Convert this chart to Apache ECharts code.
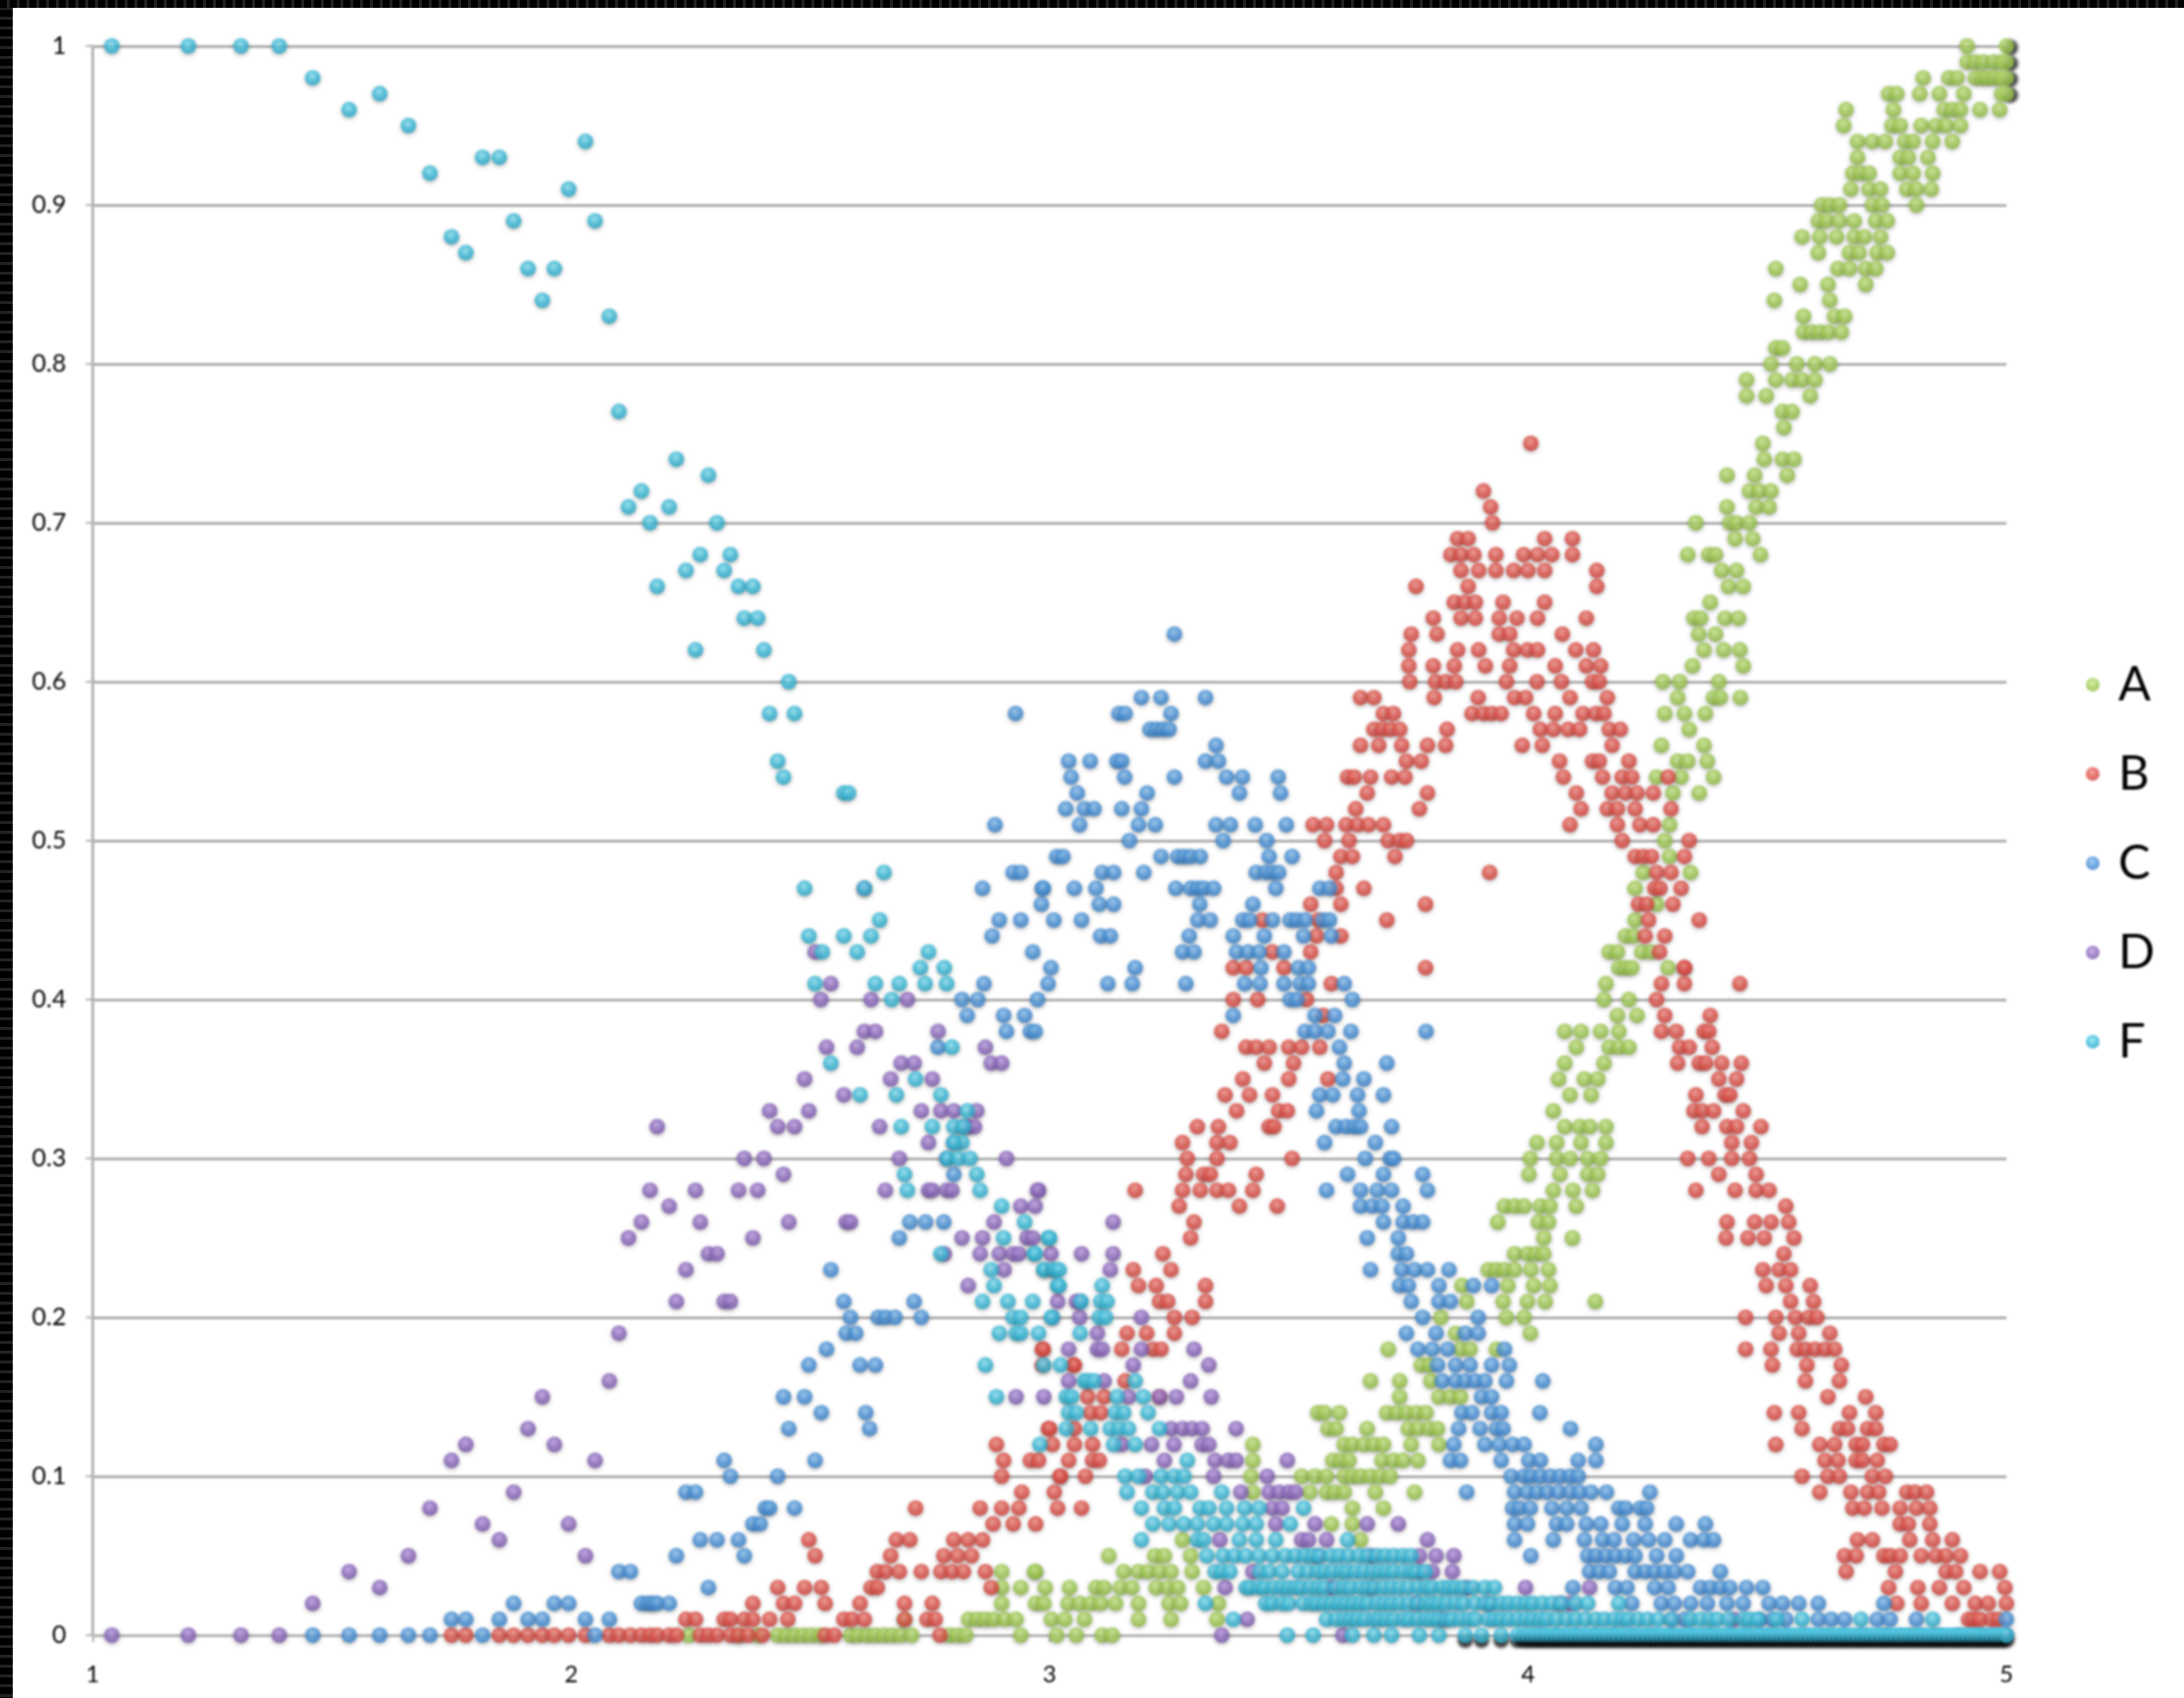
<!DOCTYPE html>
<html><head><meta charset="utf-8">
<style>
html,body{margin:0;padding:0;background:#fff;width:2226px;height:1731px;overflow:hidden}
#chart{position:absolute;left:0;top:0;width:2226px;height:1731px;filter:blur(1.1px)}
#edgeL{position:absolute;left:0;top:0;width:13px;height:1731px;background:repeating-linear-gradient(180deg,#000 0 7px,#222 7px 10px)}
#edgeT{position:absolute;left:0;top:0;width:2226px;height:8px;background:repeating-linear-gradient(90deg,#000 0 7px,#222 7px 10px)}
</style></head><body>
<div id="chart"></div><div id="edgeL"></div><div id="edgeT"></div>
<script src="https://cdn.jsdelivr.net/npm/echarts@6/dist/echarts.min.js"></script>
<script>
const seriesNames=['A','B','C','D','F'];
const xTicks=[1,2,3,4,5];
// Each row: [y, x, x, x ...]
const rowsA=[
[1,4.918,5],[.99,4.918,4.935,4.952,4.973,4.99,5],[.98,4.826,4.88,4.897,4.935,4.949,4.962,4.976,4.99,5],
[.97,4.754,4.771,4.819,4.86,4.911,4.99,5],[.96,4.665,4.764,4.87,4.887,4.904,4.945,4.986],
[.95,4.66,4.761,4.778,4.822,4.853,4.874,4.904],[.94,4.689,4.72,4.747,4.788,4.805,4.846,4.887],
[.93,4.689,4.778,4.795,4.836],[.92,4.679,4.696,4.713,4.778,4.805,4.846],[.91,4.675,4.713,4.737,4.792,4.812,4.843],
[.9,4.614,4.631,4.651,4.72,4.74,4.812],[.89,4.607,4.624,4.651,4.682,4.727,4.751],[.88,4.573,4.61,4.645,4.682,4.703,4.737],
[.87,4.607,4.672,4.692,4.73,4.751],[.86,4.518,4.648,4.672,4.706,4.727],[.85,4.569,4.627,4.706],[.84,4.515,4.631],
[.83,4.576,4.641,4.662],[.82,4.576,4.593,4.61,4.628,4.655],[.81,4.518,4.532],[.8,4.508,4.562,4.6,4.631],
[.79,4.457,4.518,4.552,4.573,4.6],[.78,4.457,4.498,4.59],[.77,4.532,4.552],[.76,4.535],[.75,4.491],
[.74,4.494,4.532,4.556],[.73,4.416,4.474,4.542],[.72,4.463,4.484,4.508],[.71,4.416,4.477,4.504],
[.7,4.351,4.422,4.436,4.463],[.69,4.433,4.47],[.68,4.334,4.378,4.392,4.486],[.67,4.405,4.436],[.66,4.419,4.45],
[.65,4.381],[.64,4.347,4.361,4.412,4.44],[.63,4.357,4.392],[.62,4.368,4.409,4.443],[.61,4.344,4.45],
[.6,4.282,4.317,4.399],[.59,4.313,4.388,4.402,4.444],[.58,4.286,4.327,4.371],[.57,4.337],[.56,4.279,4.368],
[.55,4.313,4.334,4.375],[.54,4.269,4.32,4.388],[.53,4.303,4.358],[.51,4.296],[.5,4.286],[.49,4.296],[.48,4.241,4.34],
[.47,4.224],[.46,4.269],[.45,4.224],[.44,4.204,4.221],[.43,4.17,4.187,4.238,4.258],[.42,4.19,4.204,4.217,4.293],
[.41,4.163],[.4,4.159,4.211],[.39,4.187,4.228],[.38,4.077,4.111,4.152,4.19],[.37,4.101,4.17,4.19,4.211],
[.36,4.077,4.159],[.35,4.064,4.118,4.146],[.34,4.088,4.132],[.33,4.053],[.32,4.077,4.108,4.129,4.163],
[.31,4.019,4.06,4.111,4.163],[.3,4.005,4.06,4.088,4.125,4.152],[.29,4.002,4.067,4.125,4.146],[.28,4.053,4.094,4.135],
[.27,3.951,3.972,3.992,4.026,4.046,4.101],[.26,3.937,4.022,4.043],[.25,4.033,4.093],[.24,3.972,3.999,4.016,4.033],
[.23,3.917,3.934,3.951,3.972,4.006,4.043],[.22,3.862,3.958,4.012,4.046],[.21,3.872,3.948,3.999,4.036,4.141],
[.2,3.818,3.955,3.992],[.19,3.849,4.005],[.18,3.708,3.859,3.879,3.934],[.17,3.777,3.794],[.16,3.671,3.732,3.797],
[.15,3.732,3.814,3.838,3.859],[.14,3.561,3.575,3.606,3.705,3.726,3.746,3.767,3.787],[.13,3.582,3.599,3.664,3.75,3.77,3.794,3.811],
[.12,3.425,3.616,3.633,3.657,3.678,3.698,3.756,3.814],[.11,3.425,3.592,3.609,3.626,3.695,3.719,3.739,3.77],
[.1,3.421,3.527,3.555,3.579,3.616,3.633,3.65,3.671,3.691,3.712],[.09,3.425,3.544,3.579,3.596,3.616,3.681,3.763],
[.08,3.633,3.698],[.07,3.589,3.633],[.06,3.278,3.65],[.05,3.124,3.22,3.24,3.295],
[.04,2.97,3.155,3.186,3.206,3.23,3.254,3.298,2.9,2.97],[.03,2.991,3.042,3.097,3.114,3.148,3.172,3.223,3.247,3.268,3.322,2.9,2.94],
[.02,2.9,2.971,2.988,3.039,3.063,3.086,3.107,3.138,3.186,3.25,3.274,3.353],
[.01,2.697,2.831,2.849,2.866,2.884,2.907,2.93,3.004,3.032,3.073,3.186,3.254,3.35],
[0,2.246,2.35,2.39,2.432,2.45,2.467,2.485,2.502,2.52,2.584,2.6,2.619,2.636,2.654,2.671,2.689,2.712,2.79,2.808,2.825,2.94,3.015,3.056,3.11,3.131]
];
const rowsB=[
[.75,4.006],[.72,3.907],[.71,3.922],[.7,3.926],[.69,3.853,3.875,4.035,4.093],[.68,3.839,3.86,3.887,3.933,3.991,4.02,4.05,4.093],
[.67,3.86,3.897,3.933,3.97,4,4.035,4.144],[.66,3.766,3.875,4.144],[.65,3.846,3.868,3.89,3.948,4.035],
[.64,3.802,3.86,3.89,3.94,3.977,4.02,4.122],[.63,3.756,3.81,3.94,3.962,4.072],[.62,3.751,3.853,3.897,3.97,3.999,4.02,4.1,4.137],
[.61,3.751,3.802,3.846,3.911,3.962,4.057,4.122,4.152],
[.6,3.753,3.807,3.828,3.849,3.955,4.019,4.07,4.135,4.149],[.59,3.65,3.678,3.804,3.896,3.972,3.995,4.088,4.166],
[.58,3.698,3.719,3.883,3.907,3.924,3.944,4.012,4.057,4.115,4.142,4.159],[.57,3.678,3.695,3.712,3.732,3.831,4.026,4.053,4.084,4.108,4.17,4.193],
[.56,3.65,3.688,3.736,3.79,3.828,3.988,4.03,4.176],[.55,3.746,3.777,4.066,4.135,4.149,4.211],
[.54,3.623,3.637,3.671,3.715,3.743,4.074,4.156,4.197,4.217,4.293],[.53,3.664,3.79,4.101,4.176,4.204,4.228,4.262],
[.52,3.64,3.773,4.111,4.166,4.187,4.224,4.299],[.51,3.551,3.579,3.62,3.644,3.667,3.698,4.088,4.187,4.234,4.262],
[.5,3.575,3.626,3.708,3.732,3.746,4.197,4.337],[.49,3.609,3.633,3.722,4.224,4.241,4.258,4.327],[.48,3.599,3.92,4.269,4.299],
[.47,3.599,3.657,4.265,4.276,4.32],[.46,3.546,3.609,3.786,4.231,4.248,4.303],[.45,3.445,3.562,3.705,4.252,4.358],
[.44,3.558,3.609,4.245,4.286],[.43,3.466,3.546,4.275],[.42,3.384,3.411,3.49,3.786,4.327,4.327],[.41,3.589,4.279,4.327,4.443],
[.4,3.384,3.435,3.537,4.269],[.39,3.572,4.286,4.381],[.38,3.36,4.279,4.31,4.368,4.378],
[.37,3.411,3.432,3.459,3.5,3.527,3.565,4.317,4.337,4.385],[.36,3.449,3.51,4.313,4.358,4.371,4.405,4.446],
[.35,3.404,3.5,3.582,4.399,4.436],[.34,3.367,3.418,3.466,4.351,4.412,4.422],[.33,3.391,3.479,3.497,4.347,4.364,4.388,4.45],
[.32,3.309,3.353,3.459,3.469,4.364,4.416,4.436,4.487],[.31,3.278,3.35,3.377,4.426,4.467],
[.3,3.288,3.35,3.507,4.334,4.378,4.426,4.463],[.29,3.285,3.322,3.336,3.432,4.399,4.477],
[.28,3.179,3.278,3.315,3.35,3.374,3.425,4.351,4.433,4.477,4.504],[.27,3.271,3.397,3.476,4.539],
[.26,3.302,4.416,4.474,4.508,4.545],[.25,3.295,4.414,4.46,4.494,4.556],[.24,3.237,4.535],[.23,3.175,3.254,4.491,4.525,4.549],
[.22,3.186,3.223,3.326,4.498,4.539,4.59],[.21,3.23,3.247,3.326,4.549,4.597],[.2,3.261,3.298,4.455,4.518,4.559,4.587,4.604],
[.19,3.162,3.203,3.261,4.525,4.566,4.631],[.18,2.985,2.987,3.151,3.216,3.233,4.455,4.508,4.563,4.58,4.6,4.621,4.641],
[.17,2.985,3.05,3.052,4.511,4.583,4.655],[.16,3.158,4.58,4.651],[.15,3.08,3.114,3.23,4.627,4.706],
[.14,3.086,3.107,4.515,4.566,4.672,4.727],[.13,2.998,3,3.052,4.573,4.651,4.668,4.71,4.727],
[.12,2.889,3.006,3.052,3.09,4.518,4.61,4.641,4.686,4.699,4.744,4.757],[.11,2.904,2.96,2.977,3.04,3.09,3.104,4.621,4.648,4.686,4.699,4.73],
[.1,2.9,3.023,3.075,3.022,4.573,4.627,4.651,4.72,4.747],[.09,2.942,3.01,4.61,4.675,4.71,4.733,4.792,4.809,4.833],
[.08,2.72,2.855,2.9,2.936,3.017,3.067,4.679,4.703,4.74,4.778,4.812,4.84],[.07,2.882,2.924,2.971,4.778,4.795,4.84],
[.06,2.497,2.68,2.708,2.8,2.83,2.86,4.689,4.72,4.798,4.846,4.887],[.05,2.51,2.668,2.779,2.808,2.837,4.662,4.686,4.744,4.757,4.778,4.822,4.853,4.874,4.904],
[.04,2.64,2.657,2.686,2.732,2.773,2.796,2.82,2.866,4.665,4.768,4.874,4.894,4.945,4.986],
[.03,2.432,2.488,2.523,2.627,2.64,2.878,4.754,4.815,4.86,4.911,4.997],[.02,2.38,2.444,2.467,2.531,2.604,2.697,2.755,4.771,4.822,4.887,4.935,4.962,5],
[.01,2.24,2.26,2.32,2.333,2.362,2.38,2.415,2.453,2.57,2.587,2.613,2.697,2.744,2.761,4.921,4.932,4.945,4.969,4.983],
[0,1.75,1.78,1.85,1.88,1.91,1.94,1.965,1.995,2.03,2.08,2.1,2.124,2.147,2.165,2.18,2.205,2.22,2.27,2.287,2.305,2.333,2.35,2.37,2.4,2.531,2.55,2.771,4.7,4.75,4.8,4.85,4.9,4.95,5]
];
const rowsC=[
[.63,3.261],[.59,3.192,3.233,3.326],[.58,2.929,3.145,3.158,3.254],[.57,3.21,3.223,3.237,3.25],[.56,3.348],
[.55,3.04,3.085,3.141,3.151,3.326,3.353],[.54,3.045,3.157,3.261,3.37,3.403,3.478],[.53,3.058,3.204,3.397,3.483],
[.52,3.034,3.073,3.093,3.151,3.192],[.51,2.886,3.063,3.186,3.221,3.348,3.378,3.43,3.495],[.5,3.167,3.363,3.454],
[.49,3.015,3.028,3.233,3.268,3.281,3.295,3.315,3.459,3.507],[.48,2.924,2.94,3.11,3.134,3.197,3.432,3.452,3.466,3.479],
[.47,2.86,2.985,3.052,2.987,3.097,3.264,3.295,3.309,3.322,3.343,3.473,3.565,3.585],[.46,2.983,3.104,3.134,3.314,3.425],
[.45,2.895,2.94,3.009,3.067,3.31,3.336,3.404,3.418,3.466,3.503,3.517,3.534,3.572,3.585],[.44,2.88,3.107,3.127,3.292,3.384,3.449,3.531,3.589],
[.43,2.965,3.278,3.302,3.391,3.415,3.438,3.49],[.42,3.003,3.179,3.442,3.52,3.541],[.41,2.863,2.997,3.122,3.173,3.285,3.408,3.44,3.49,3.524,3.541,3.616],
[.4,2.817,2.85,2.975,3.503,3.517,3.633],[.39,2.828,2.904,2.948,3.384,3.555,3.596],[.38,2.91,2.96,2.97,3.534,3.555,3.582,3.63,3.787],
[.37,2.767,3.606],[.36,3.616,3.705],[.35,3.613,3.657],[.34,3.565,3.592,3.644,3.698],[.33,3.558,3.647],
[.32,2.82,3.599,3.62,3.637,3.65,3.715],[.31,2.8,3.575,3.681],[.3,2.785,3.66,3.712,3.719],[.29,2.8,3.623,3.698,3.78],
[.28,3.579,3.65,3.685,3.715,3.79],[.27,3.65,3.674,3.695,3.739],[.26,2.708,2.741,2.779,3.698,3.739,3.76,3.78],[.25,2.686,3.664,3.729],
[.24,3.729,3.746],[.23,2.543,3.671,3.736,3.763,3.79,3.835],[.22,3.732,3.75,3.814,3.886,3.924],[.21,2.57,2.717,3.064,3.756,3.814,3.838],
[.2,2.584,2.642,2.657,2.677,2.732,3.006,3.78,3.896],[.19,2.575,2.595,3.746,3.808,3.869,3.896],[.18,2.534,3.77,3.8,3.832,3.951],
[.17,2.497,2.604,2.636,3.811,3.849,3.879,3.924,3.961],[.16,3.821,3.849,3.869,3.89,3.91,3.955,4.031],[.15,2.444,2.488,3.903,3.924],
[.14,2.523,2.616,3.862,3.883,3.924,3.944,4.025],[.13,2.455,2.624,3.855,3.9,3.934,3.948,4.089],[.12,3.845,3.91,3.94,3.968,3.992,4.142],
[.11,2.32,2.51,3.838,3.859,3.944,4.002,4.026,4.105,4.142],[.1,2.333,2.432,3.965,3.992,4.006,4.026,4.047,4.067,4.088,4.105],
[.09,2.24,2.26,3.872,3.972,3.999,4.019,4.04,4.064,4.088,4.108,4.132,4.164,4.255],[.08,2.406,2.415,2.467,3.968,3.982,4.005,4.05,4.081,4.111,4.19,4.204,4.235,4.248],
[.07,2.38,2.395,3.972,3.999,4.06,4.081,4.122,4.152,4.197,4.245,4.31,4.371],[.06,2.27,2.305,2.35,3.972,4.053,4.118,4.156,4.18,4.221,4.252,4.286,4.34,4.368,4.388],
[.05,2.22,2.362,4.006,4.125,4.142,4.163,4.183,4.204,4.224,4.269,4.31],[.04,2.1,2.124,4.129,4.149,4.17,4.224,4.245,4.265,4.286,4.306,4.334,4.402],
[.03,2.287,4.094,4.183,4.207,4.265,4.293,4.361,4.381,4.402,4.422,4.457,4.491],
[.02,1.88,1.965,1.995,2.147,2.16,2.17,2.18,2.205,4.217,4.279,4.306,4.34,4.375,4.416,4.45,4.504,4.532,4.566,4.607,4.744],
[.01,1.75,1.78,1.85,1.91,1.94,2.03,2.08,4.327,4.484,4.511,4.539,4.607,4.634,4.662,4.73,4.757,4.812,5],
[0,1.46,1.536,1.6,1.66,1.705,1.815,2.05,4.02,4.06,4.1,4.14,4.18,4.22,4.26,4.3,4.34,4.38,4.42,4.46,4.5,4.54,4.58,4.62,4.66,4.7,4.74,4.78,4.82,4.86,4.9,4.94,4.98,5]
];
const rowsD=[
[.47,2.613],[.43,2.51],[.41,2.543],[.4,2.522,2.627,2.703],[.38,2.613,2.636,2.767],[.37,2.534,2.598,2.866],[.36,2.69,2.717,2.878,2.9],
[.35,2.488,2.668,2.755],[.34,2.57],[.33,2.415,2.497,2.732,2.773,2.8,2.848],[.32,2.18,2.432,2.467,2.645,2.83,2.843],[.31,2.747],
[.3,2.362,2.403,2.686,2.91],[.29,2.444],[.28,2.165,2.26,2.35,2.39,2.657,2.747,2.755,2.785,2.796,2.977,2.975],
[.27,2.205,2.94,2.97],[.26,2.147,2.27,2.455,2.575,2.584,2.884,3.133],[.25,2.12,2.38,2.817,2.86,2.953,2.965],
[.24,2.287,2.305,2.78,2.855,2.895,2.924,2.936,3.003,3.067,3.133],[.23,2.24,2.905,3.127],[.22,2.83],[.21,2.22,2.32,2.333,3.017,3.056],
[.2,3.063,3.192],[.19,2.1,3.1],[.18,3.04,3.1,3.11,3.192,3.302],[.17,3.175,3.333],[.16,2.08,3.04,3.114,3.295],[.15,1.94,2.93,2.988,3.165,3.23,3.265,3.338],
[.13,1.91,3.254,3.278,3.298,3.319,3.39],[.12,1.78,1.965,3.151,3.213,3.26,3.319,3.333],[.11,1.75,2.05,3.24,3.346,3.374,3.39,3.497],
[.1,3.2,3.343,3.455],[.09,1.88,3.4,3.459,3.48,3.5,3.514],[.08,1.705,3.466,3.486],[.07,1.815,1.995,3.473,3.555,3.664,3.729],
[.06,1.85,3.356,3.527,3.541,3.579,3.79],[.05,1.66,2.03,3.56,3.671,3.773,3.808,3.845],[.04,1.536,3.425,3.773,3.8,3.842],
[.03,1.6,3.367,3.589,3.671,3.872,3.995,4.129],[.02,1.46,3.767,3.917,4.067,4.088],[.01,3.413,3.821,4.3,4.43],[0,1.04,1.2,1.31,1.39,3.36,3.613]
];
const rowsF=[
[1,1.04,1.2,1.31,1.39],[.98,1.46],[.97,1.6],[.96,1.536],[.95,1.66],[.94,2.03],[.93,1.815,1.85],[.92,1.705],[.91,1.995],[.89,1.88,2.05],
[.88,1.75],[.87,1.78],[.86,1.91,1.965],[.84,1.94],[.83,2.08],[.77,2.1],[.74,2.22],[.73,2.287],[.72,2.147],[.71,2.12,2.205],[.7,2.165,2.305],
[.68,2.27,2.333],[.67,2.24,2.32],[.66,2.18,2.35,2.38],[.64,2.362,2.39],[.62,2.26,2.403],[.6,2.455],[.58,2.415,2.467],[.55,2.432],[.54,2.444],[.53,2.57,2.58],
[.48,2.654],[.47,2.488,2.613],[.45,2.645],[.44,2.497,2.57,2.627],[.43,2.525,2.598,2.747],[.42,2.73,2.78],[.41,2.51,2.636,2.686,2.74,2.785],[.4,2.67],
[.37,2.796],[.36,2.543],[.35,2.72],[.34,2.604,2.68,2.773],[.33,2.828],[.32,2.69,2.755,2.8,2.82],[.31,2.817,2.8],[.3,2.787,2.81,2.834],[.29,2.697,2.848],
[.28,2.703,2.855],[.27,2.9],[.26,2.948],[.25,2.904,2.998,3],[.24,2.773,2.968,2.97],[.23,2.878,2.988,2.99,3.008,3.012,3.02],[.22,2.884,3.017,3.02,3.11],
[.21,2.86,2.913,2.965,3.066,3.107,3.12],[.2,2.924,2.94,3.004,3.104,3.117],[.19,2.895,2.93,2.94,2.977,3.064],[.17,2.866,2.988,3.023],
[.16,3.073,3.08,3.093,3.179],[.15,2.889,3.035,3.046,3.141,3.196],[.14,3.04,3.056,3.138,3.155,3.206],[.13,3.035,3.086,3.127,3.145,3.165,3.23],
[.12,2.98,3.134,3.179],[.11,3.288],[.1,3.158,3.186,3.233,3.261,3.281],[.09,3.162,3.216,3.237,3.268,3.295,3.36],
[.08,3.192,3.24,3.261,3.315,3.333,3.37,3.408,3.438,3.531],[.07,3.216,3.25,3.281,3.309,3.343,3.37,3.404,3.432,3.503],
[.06,3.192,3.309,3.322,3.397,3.432,3.473,3.623],[.05,3.329,3.363,3.387,3.41,3.438,3.466,3.493,3.514,3.534,3.55,3.565,3.589,3.605,3.625,3.647,3.665,3.685,3.702,3.72,3.739,3.755],
[.04,3.346,3.36,3.377,3.44,3.459,3.486,3.52,3.54,3.561,3.575,3.592,3.61,3.623,3.64,3.657,3.675,3.69,3.705,3.72,3.739,3.755,3.767,3.785],
[.03,3.411,3.42,3.438,3.45,3.469,3.485,3.5,3.515,3.527,3.545,3.561,3.575,3.6,3.616,3.63,3.65,3.665,3.68,3.698,3.715,3.732,3.75,3.77,3.787,3.8,3.821,3.835,3.849,3.865,3.885,3.91,3.93],
[.02,3.326,3.452,3.465,3.486,3.5,3.53,3.548,3.56,3.575,3.59,3.606,3.62,3.635,3.65,3.665,3.685,3.7,3.715,3.732,3.75,3.77,3.787,3.8,3.814,3.83,3.849,3.865,3.89,3.91,3.925,3.944,3.96,3.978,3.995,4.01,4.03,4.05,4.07,4.1,4.125,4.19],
[.01,3.384,3.579,3.6,3.616,3.63,3.644,3.66,3.678,3.69,3.705,3.72,3.74,3.753,3.77,3.787,3.8,3.814,3.83,3.842,3.86,3.876,3.89,3.917,3.93,3.944,3.96,3.978,3.995,4.01,4.026,4.04,4.06,4.081,4.1,4.12,4.142,4.16,4.18,4.197,4.21,4.231,4.25,4.272,4.3,4.34,4.361,4.38,4.395,4.42,4.45,4.463,4.48,4.52,4.573,4.696,4.846],
[0,3.497,3.551,3.633,3.678,3.715,3.773,3.814,3.869,3.903,3.944,3.978,3.99,4,4.01,4.02,4.03,4.04,4.05,4.06,4.07,4.08,4.09,4.1,4.11,4.12,4.13,4.14,4.15,4.16,4.17,4.18,4.19,4.2,4.21,4.22,4.23,4.24,4.25,4.26,4.27,4.28,4.29,4.3,4.31,4.32,4.33,4.34,4.35,4.36,4.37,4.38,4.39,4.4,4.41,4.42,4.43,4.44,4.45,4.46,4.47,4.48,4.49,4.5,4.51,4.52,4.53,4.54,4.55,4.56,4.57,4.58,4.59,4.6,4.61,4.62,4.63,4.64,4.65,4.66,4.67,4.68,4.69,4.7,4.71,4.72,4.73,4.74,4.75,4.76,4.77,4.78,4.79,4.8,4.81,4.82,4.83,4.84,4.85,4.86,4.87,4.88,4.89,4.9,4.91,4.92,4.93,4.94,4.95,4.96,4.97,4.98,4.99,5]
];
const colors={A:['#cdea8e','#a1cc55','#90b84a'],B:['#f59088','#e0524a','#c9463f'],C:['#90c6f4','#4a93da','#3f82c4'],D:['#bea0e6','#8f6cc0','#7a5aa8'],F:['#8ce6f6','#3cbcdc','#30a6c2']};
const expand=rows=>rows.flatMap(r=>r.slice(1).map(x=>[x,r[0]]));
const allRows={A:rowsA,B:rowsB,C:rowsC,D:rowsD,F:rowsF};
const grad=n=>({type:'radial',x:.45,y:.38,r:.65,colorStops:[{offset:0,color:colors[n][0]},{offset:.55,color:colors[n][1]},{offset:1,color:colors[n][2]}]});
// darker drop-shadow where the reference's marks pile up on the axis and at the top right corner
const item=(n,p)=>{
 if(n==='F'&&p[1]===0&&p[0]>=3.85) return {value:p,itemStyle:{shadowColor:'rgba(0,0,0,.95)',shadowOffsetY:5,shadowBlur:3}};
 if(n==='A'&&p[0]===5) return {value:p,itemStyle:{shadowColor:'rgba(0,0,0,.9)',shadowOffsetX:4,shadowBlur:3}};
 return p;
};
const chart=echarts.init(document.getElementById('chart'),null,{renderer:'canvas'});
chart.setOption({
 animation:false,backgroundColor:'#fff',
 grid:{left:94.5,top:47,width:1950.5,height:1620,containLabel:false},
 legend:{orient:'vertical',left:2121,top:667,itemGap:39,itemWidth:14,itemHeight:14,icon:'circle',data:seriesNames,
  textStyle:{fontFamily:'Lato',fontSize:49,color:'#000',padding:[0,0,0,14],lineHeight:52}},
 xAxis:{type:'value',min:xTicks[0],max:xTicks[xTicks.length-1],interval:1,splitLine:{show:false},
  axisLine:{lineStyle:{color:'#b4b4b4',width:3}},axisTick:{length:7,lineStyle:{color:'#b4b4b4',width:2}},
  axisLabel:{fontFamily:'Lato',fontSize:24,color:'#000',margin:28}},
 yAxis:{type:'value',min:0,max:1,interval:.1,
  splitLine:{lineStyle:{color:'#a0a0a0',width:2.5}},
  axisLine:{show:true,lineStyle:{color:'#b4b4b4',width:3}},axisTick:{length:7,lineStyle:{color:'#b4b4b4',width:2}},
  axisLabel:{fontFamily:'Lato',fontSize:25,color:'#000',margin:27}},
 series:seriesNames.map(n=>({name:n,type:'scatter',clip:false,symbol:'circle',symbolSize:16,data:expand(allRows[n]).map(p=>item(n,p)),
  itemStyle:{color:grad(n),shadowBlur:4,shadowColor:'rgba(0,0,0,.35)',shadowOffsetY:1.5},emphasis:{disabled:true}}))
});
</script></body></html>
